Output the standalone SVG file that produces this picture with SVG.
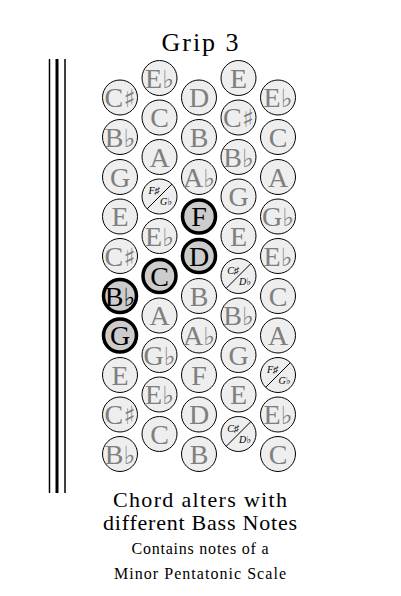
<svg xmlns="http://www.w3.org/2000/svg" width="401" height="596" viewBox="0 0 401 596">
<style>
.k{fill:#eeeeee;stroke:#000;stroke-width:1}
.b{fill:#cccccc;stroke:#000;stroke-width:3.5}
.t{font-family:"Liberation Serif","DejaVu Serif",serif;font-size:28px;fill:#7f7f7f;text-anchor:middle}
.tb{font-family:"Liberation Serif","DejaVu Serif",serif;font-size:28px;fill:#000;text-anchor:middle}
.a{font-family:"DejaVu Serif","DejaVu Sans",serif;font-size:25px}
.s{font-family:"Liberation Serif","DejaVu Serif",serif;font-size:10px;font-style:italic;fill:#000;text-anchor:middle}
.d{stroke:#000;stroke-width:1}
.h{font-family:"Liberation Serif","DejaVu Serif",serif;fill:#000;text-anchor:middle}
</style>
<text class="h" x="200" y="51" font-size="26" textLength="77" lengthAdjust="spacing">Grip 3</text>
<g id="bars">
<line x1="49.5" y1="59" x2="49.5" y2="493" stroke="#000" stroke-width="1.5"/>
<line x1="57" y1="59" x2="57" y2="493" stroke="#000" stroke-width="3"/>
<line x1="65" y1="59" x2="65" y2="493" stroke="#000" stroke-width="1.5"/>
</g>
<g id="col1">
<g id="c1r1"><circle class="k" cx="120" cy="97.5" r="17.5"/><text class="t" x="120" y="107">C<tspan class="a">♯</tspan></text></g>
<g id="c1r2"><circle class="k" cx="120" cy="137" r="17.5"/><text class="t" x="120" y="146.5">B<tspan class="a">♭</tspan></text></g>
<g id="c1r3"><circle class="k" cx="120" cy="177" r="17.5"/><text class="t" x="120" y="186.5">G</text></g>
<g id="c1r4"><circle class="k" cx="120" cy="216.5" r="17.5"/><text class="t" x="120" y="226">E</text></g>
<g id="c1r5"><circle class="k" cx="120" cy="256" r="17.5"/><text class="t" x="120" y="265.5">C<tspan class="a">♯</tspan></text></g>
<g id="c1r6"><circle class="b" cx="120" cy="296" r="16.5"/><text class="tb" x="120" y="305.5">B<tspan class="a">♭</tspan></text></g>
<g id="c1r7"><circle class="b" cx="120" cy="335.5" r="16.5"/><text class="tb" x="120" y="345">G</text></g>
<g id="c1r8"><circle class="k" cx="120" cy="375" r="17.5"/><text class="t" x="120" y="384.5">E</text></g>
<g id="c1r9"><circle class="k" cx="120" cy="414.5" r="17.5"/><text class="t" x="120" y="424">C<tspan class="a">♯</tspan></text></g>
<g id="c1r10"><circle class="k" cx="120" cy="454" r="17.5"/><text class="t" x="120" y="463.5">B<tspan class="a">♭</tspan></text></g>
</g>
<g id="col2">
<g id="c2r1"><circle class="k" cx="159.5" cy="78" r="17.5"/><text class="t" x="159.5" y="87.5">E<tspan class="a">♭</tspan></text></g>
<g id="c2r2"><circle class="k" cx="159.5" cy="117.5" r="17.5"/><text class="t" x="159.5" y="127">C</text></g>
<g id="c2r3"><circle class="k" cx="159.5" cy="157" r="17.5"/><text class="t" x="159.5" y="166.5">A</text></g>
<g id="c2r4"><circle class="k" cx="159.5" cy="196.5" r="17.5"/><line class="d" x1="147.1" y1="208.9" x2="171.9" y2="184.1"/><text class="s" x="154" y="194">F♯</text><text class="s" x="166" y="205">G♭</text></g>
<g id="c2r5"><circle class="k" cx="159.5" cy="236" r="17.5"/><text class="t" x="159.5" y="245.5">E<tspan class="a">♭</tspan></text></g>
<g id="c2r6"><circle class="b" cx="159.5" cy="276" r="16.5"/><text class="tb" x="159.5" y="285.5">C</text></g>
<g id="c2r7"><circle class="k" cx="159.5" cy="315.5" r="17.5"/><text class="t" x="159.5" y="325">A</text></g>
<g id="c2r8"><circle class="k" cx="159.5" cy="355" r="17.5"/><text class="t" x="159.5" y="364.5">G<tspan class="a">♭</tspan></text></g>
<g id="c2r9"><circle class="k" cx="159.5" cy="394.5" r="17.5"/><text class="t" x="159.5" y="404">E<tspan class="a">♭</tspan></text></g>
<g id="c2r10"><circle class="k" cx="159.5" cy="434" r="17.5"/><text class="t" x="159.5" y="443.5">C</text></g>
</g>
<g id="col3">
<g id="c3r1"><circle class="k" cx="199" cy="97.5" r="17.5"/><text class="t" x="199" y="107">D</text></g>
<g id="c3r2"><circle class="k" cx="199" cy="137" r="17.5"/><text class="t" x="199" y="146.5">B</text></g>
<g id="c3r3"><circle class="k" cx="199" cy="177" r="17.5"/><text class="t" x="199" y="186.5">A<tspan class="a">♭</tspan></text></g>
<g id="c3r4"><circle class="b" cx="199" cy="216.5" r="16.5"/><text class="tb" x="199" y="226">F</text></g>
<g id="c3r5"><circle class="b" cx="199" cy="256" r="16.5"/><text class="tb" x="199" y="265.5">D</text></g>
<g id="c3r6"><circle class="k" cx="199" cy="296" r="17.5"/><text class="t" x="199" y="305.5">B</text></g>
<g id="c3r7"><circle class="k" cx="199" cy="335.5" r="17.5"/><text class="t" x="199" y="345">A<tspan class="a">♭</tspan></text></g>
<g id="c3r8"><circle class="k" cx="199" cy="375" r="17.5"/><text class="t" x="199" y="384.5">F</text></g>
<g id="c3r9"><circle class="k" cx="199" cy="414.5" r="17.5"/><text class="t" x="199" y="424">D</text></g>
<g id="c3r10"><circle class="k" cx="199" cy="454" r="17.5"/><text class="t" x="199" y="463.5">B</text></g>
</g>
<g id="col4">
<g id="c4r1"><circle class="k" cx="238.5" cy="78" r="17.5"/><text class="t" x="238.5" y="87.5">E</text></g>
<g id="c4r2"><circle class="k" cx="238.5" cy="117.5" r="17.5"/><text class="t" x="238.5" y="127">C<tspan class="a">♯</tspan></text></g>
<g id="c4r3"><circle class="k" cx="238.5" cy="157" r="17.5"/><text class="t" x="238.5" y="166.5">B<tspan class="a">♭</tspan></text></g>
<g id="c4r4"><circle class="k" cx="238.5" cy="196.5" r="17.5"/><text class="t" x="238.5" y="206">G</text></g>
<g id="c4r5"><circle class="k" cx="238.5" cy="236" r="17.5"/><text class="t" x="238.5" y="245.5">E</text></g>
<g id="c4r6"><circle class="k" cx="238.5" cy="276" r="17.5"/><line class="d" x1="226.1" y1="288.4" x2="250.9" y2="263.6"/><text class="s" x="233" y="273.5">C♯</text><text class="s" x="245" y="284.5">D♭</text></g>
<g id="c4r7"><circle class="k" cx="238.5" cy="315.5" r="17.5"/><text class="t" x="238.5" y="325">B<tspan class="a">♭</tspan></text></g>
<g id="c4r8"><circle class="k" cx="238.5" cy="355" r="17.5"/><text class="t" x="238.5" y="364.5">G</text></g>
<g id="c4r9"><circle class="k" cx="238.5" cy="394.5" r="17.5"/><text class="t" x="238.5" y="404">E</text></g>
<g id="c4r10"><circle class="k" cx="238.5" cy="434" r="17.5"/><line class="d" x1="226.1" y1="446.4" x2="250.9" y2="421.6"/><text class="s" x="233" y="431.5">C♯</text><text class="s" x="245" y="442.5">D♭</text></g>
</g>
<g id="col5">
<g id="c5r1"><circle class="k" cx="278" cy="97.5" r="17.5"/><text class="t" x="278" y="107">E<tspan class="a">♭</tspan></text></g>
<g id="c5r2"><circle class="k" cx="278" cy="137" r="17.5"/><text class="t" x="278" y="146.5">C</text></g>
<g id="c5r3"><circle class="k" cx="278" cy="177" r="17.5"/><text class="t" x="278" y="186.5">A</text></g>
<g id="c5r4"><circle class="k" cx="278" cy="216.5" r="17.5"/><text class="t" x="278" y="226">G<tspan class="a">♭</tspan></text></g>
<g id="c5r5"><circle class="k" cx="278" cy="256" r="17.5"/><text class="t" x="278" y="265.5">E<tspan class="a">♭</tspan></text></g>
<g id="c5r6"><circle class="k" cx="278" cy="296" r="17.5"/><text class="t" x="278" y="305.5">C</text></g>
<g id="c5r7"><circle class="k" cx="278" cy="335.5" r="17.5"/><text class="t" x="278" y="345">A</text></g>
<g id="c5r8"><circle class="k" cx="278" cy="375" r="17.5"/><line class="d" x1="265.6" y1="387.4" x2="290.4" y2="362.6"/><text class="s" x="272.5" y="372.5">F♯</text><text class="s" x="284.5" y="383.5">G♭</text></g>
<g id="c5r9"><circle class="k" cx="278" cy="414.5" r="17.5"/><text class="t" x="278" y="424">E<tspan class="a">♭</tspan></text></g>
<g id="c5r10"><circle class="k" cx="278" cy="454" r="17.5"/><text class="t" x="278" y="463.5">C</text></g>
</g>
<g id="caption">
<text class="h" x="200" y="507" font-size="22" textLength="174" lengthAdjust="spacing">Chord alters with</text>
<text class="h" x="200" y="530" font-size="22" textLength="194" lengthAdjust="spacing">different Bass Notes</text>
<text class="h" x="200" y="554" font-size="16" textLength="137" lengthAdjust="spacing">Contains notes of a</text>
<text class="h" x="200" y="579" font-size="16" textLength="172" lengthAdjust="spacing">Minor Pentatonic Scale</text>
</g>
</svg>
